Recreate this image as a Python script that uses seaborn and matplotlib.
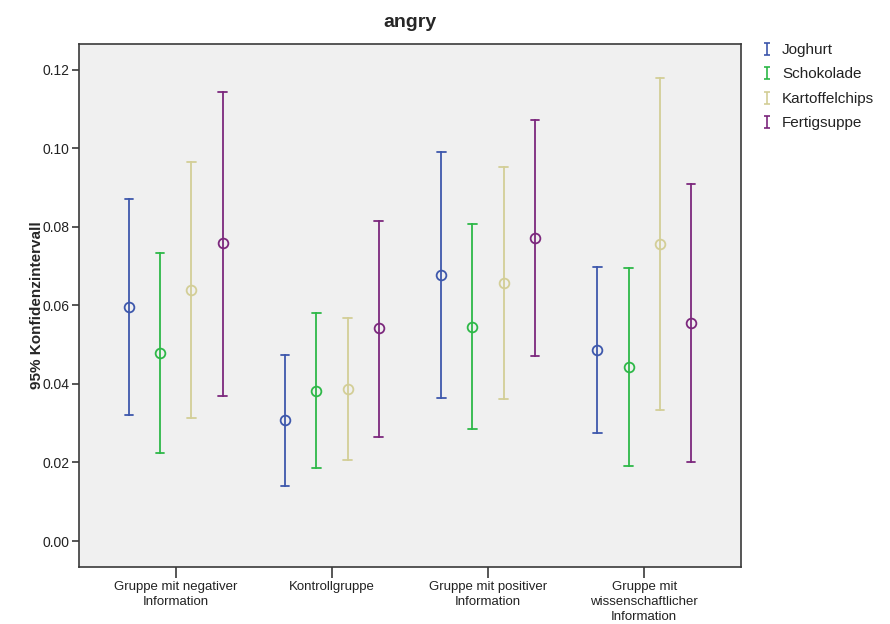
import matplotlib
matplotlib.use("Agg")
import matplotlib.pyplot as plt
from matplotlib.path import Path
from matplotlib.lines import Line2D
import seaborn as sns
import pandas as pd
import numpy as np

categories = [
    "Gruppe mit negativer\nInformation",
    "Kontrollgruppe",
    "Gruppe mit positiver\nInformation",
    "Gruppe mit\nwissenschaftlicher\nInformation",
]
products = ["Joghurt", "Schokolade", "Kartoffelchips", "Fertigsuppe"]
colors = ["#3E58AC", "#2EB848", "#D3CE97", "#7C287D"]

# means per product, one value per category
mean_joghurt = [0.0595, 0.0308, 0.0678, 0.0487]
mean_schokolade = [0.0478, 0.0383, 0.0546, 0.0444]
mean_chips = [0.0639, 0.0387, 0.0657, 0.0757]
mean_suppe = [0.0758, 0.0542, 0.0773, 0.0556]

low_joghurt = [0.0321, 0.0141, 0.0365, 0.0276]
low_schokolade = [0.0223, 0.0185, 0.0285, 0.0191]
low_chips = [0.0313, 0.0207, 0.0363, 0.0334]
low_suppe = [0.0370, 0.0266, 0.0472, 0.0202]

high_joghurt = [0.0871, 0.0474, 0.0990, 0.0697]
high_schokolade = [0.0733, 0.0580, 0.0808, 0.0696]
high_chips = [0.0965, 0.0567, 0.0952, 0.1179]
high_suppe = [0.1145, 0.0816, 0.1072, 0.0910]

yticks = [0.00, 0.02, 0.04, 0.06, 0.08, 0.10, 0.12]

means = [mean_joghurt, mean_schokolade, mean_chips, mean_suppe]
lows = [low_joghurt, low_schokolade, low_chips, low_suppe]
highs = [high_joghurt, high_schokolade, high_chips, high_suppe]

rows = []
for p, m, lo, hi in zip(products, means, lows, highs):
    for c, mv, lv, hv in zip(categories, m, lo, hi):
        for v in (lv, mv, hv):
            rows.append({"Gruppe": c, "Produkt": p, "Wert": v})
df = pd.DataFrame(rows)

sns.set_style("white")
plt.rcParams["font.family"] = ["Liberation Sans", "DejaVu Sans"]

fig = plt.figure(figsize=(8.9, 6.24), dpi=100)
ax = fig.add_axes([79 / 890, 1 - 567 / 624, (741 - 79) / 890, (567 - 44) / 624])

sns.pointplot(
    data=df, x="Gruppe", y="Wert", hue="Produkt",
    order=categories, hue_order=products, palette=colors,
    estimator="median", errorbar=lambda v: (np.min(v), np.max(v)),
    dodge=0.6, linestyle="none", markers="o", capsize=0.055,
    err_kws={"linewidth": 1.3}, markersize=7, markeredgewidth=1.3,
    legend=False, ax=ax,
)
for ln in ax.lines:
    if ln.get_marker() not in (None, "None", "", " "):
        ln.set_markerfacecolor("none")

ax.set_facecolor("#F0F0F0")
ax.set_xlim(-0.62, 3.62)
ax.set_ylim(-0.00662, 0.1266)
ax.set_yticks(yticks)
ax.set_yticklabels([f"{t:.2f}" for t in yticks])
ax.set_xticks(range(len(categories)))
ax.set_xticklabels(categories, linespacing=1.35)
ax.set_xlabel("")
ax.set_ylabel("95% Konfidenzintervall", fontsize=11, fontweight="bold", labelpad=-1)
ax.set_title("angry", fontsize=14, fontweight="bold", pad=12)

for s in ax.spines.values():
    s.set_color("#3a3a3a")
    s.set_linewidth(1.2)
ax.tick_params(axis="y", which="major", direction="out", length=5, width=1.2,
               color="#3a3a3a", labelsize=10, labelcolor="#222222", left=True, pad=2)
ax.tick_params(axis="x", which="major", direction="out", length=8, width=1.2,
               color="#3a3a3a", labelsize=9.5, labelcolor="#222222", bottom=True, pad=2)

ibeam = Path(
    [(-0.5, 1), (0.5, 1), (0, 1), (0, -1), (-0.5, -1), (0.5, -1)],
    [Path.MOVETO, Path.LINETO, Path.MOVETO, Path.LINETO, Path.MOVETO, Path.LINETO],
)
handles = [Line2D([], [], marker=ibeam, linestyle="none", color=c,
                  markersize=9, markeredgewidth=1.2) for c in colors]
leg = fig.legend(handles, products, loc="upper left", bbox_to_anchor=(753 / 890, 1 - 37 / 624),
                 frameon=False, fontsize=11, handlelength=1.0, handletextpad=0.5,
                 labelspacing=0.68, borderaxespad=0)
for t in leg.get_texts():
    t.set_color("#222222")

fig.savefig("out.png", dpi=100, facecolor="white")
